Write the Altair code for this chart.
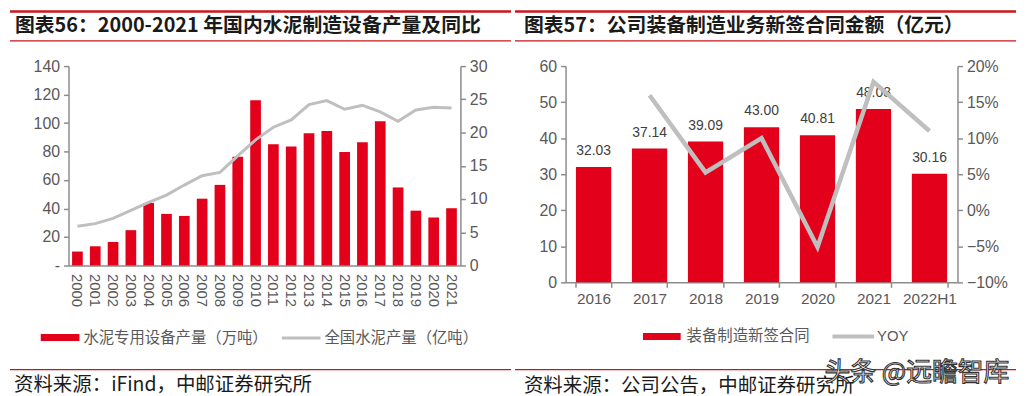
import altair as alt
import pandas as pd

# ---------------- data ----------------
years = [str(y) for y in range(2000, 2022)]
equip_output = [9.8, 13.5, 16.5, 24.8, 43.9, 36.2, 34.8, 46.9, 56.6, 76.4, 116.0,
                85.2, 83.6, 92.9, 94.5, 79.6, 86.6, 101.2, 54.8, 38.5, 33.7, 40.2]
cement_output = [5.9, 6.3, 7.1, 8.3, 9.5, 10.6, 12.1, 13.5, 14.0, 16.5, 18.9,
                 20.8, 21.9, 24.2, 24.8, 23.5, 24.1, 23.1, 21.7, 23.4, 23.8, 23.7]

periods = ["2016", "2017", "2018", "2019", "2020", "2021", "2022H1"]
contracts = [32.03, 37.14, 39.09, 43.00, 40.81, 48.08, 30.16]
yoy = [None, 0.1595, 0.0525, 0.100, -0.0509, 0.1781, 0.110]

title_left = "图表56：2000-2021 年国内水泥制造设备产量及同比"
title_right = "图表57：公司装备制造业务新签合同金额（亿元）"
legend_left = ["水泥专用设备产量（万吨）", "全国水泥产量（亿吨）"]
legend_right = ["装备制造新签合同", "YOY"]
source_left = "资料来源：iFind，中邮证券研究所"
source_right = "资料来源：公司公告，中邮证券研究所"
watermark = "头条 @远瞻智库"

# ---------------- styles ----------------
RED = "#E2001A"
RULE = "#C8161E"
GREY_LINE = "#BFBFBF"
AXIS = "#8C8C8C"
LABEL = "#595959"
NUM_FONT = "Liberation Sans"
CJK = "Noto Sans CJK SC"

one = pd.DataFrame({"k": [0]})


def hrule(x1, x2, y, w, color=RULE):
    return alt.Chart(one).mark_rule(color=color, strokeWidth=w, strokeCap="butt").encode(
        x=alt.value(x1), x2=alt.value(x2), y=alt.value(y))


def box(x1, x2, y1, y2, color):
    return alt.Chart(one).mark_rect(color=color).encode(
        x=alt.value(x1), x2=alt.value(x2), y=alt.value(y1), y2=alt.value(y2))


def txt(s, x, y, size, color, font=CJK, weight="normal", **kw):
    return alt.Chart(one).mark_text(align="left", baseline="middle", font=font,
                                    fontSize=size, fontWeight=weight, color=color, **kw).encode(
        x=alt.value(x), y=alt.value(y), text=alt.value(s))


axis_common = dict(title=None, grid=False, labelColor=LABEL, labelFont=NUM_FONT,
                   domainColor=AXIS, tickColor=AXIS, domainWidth=1.5, tickWidth=1.5)

# ---------------- left panel ----------------
W1, H1 = 395, 201
df1 = pd.DataFrame({"year": years, "equip": equip_output, "cement": cement_output})
base1 = alt.Chart(df1)
x1 = alt.X("year:N", sort=years,
           scale=alt.Scale(paddingInner=0.4, paddingOuter=0.2),
           axis=alt.Axis(labelAngle=90, labelAlign="left", labelBaseline="middle",
                         labelFontSize=15, ticks=False, labelPadding=8, **axis_common))
bars1 = base1.mark_bar(color=RED).encode(
    x=x1,
    y=alt.Y("equip:Q", scale=alt.Scale(domain=[0, 140]),
            axis=alt.Axis(orient="left", values=list(range(0, 141, 20)),
                          labelExpr="datum.value == 0 ? '-' : datum.label",
                          labelFontSize=16, tickSize=5, labelPadding=4, **axis_common)))
line1 = base1.mark_line(color=GREY_LINE, strokeWidth=3).encode(
    x=x1,
    y=alt.Y("cement:Q", scale=alt.Scale(domain=[0, 30]),
            axis=alt.Axis(orient="right", values=list(range(0, 31, 5)),
                          labelFontSize=16, tickSize=5, labelPadding=4, **axis_common)))

deco1 = [
    hrule(-59, 446, -55, 2.6),
    hrule(-59, 446, -25.5, 1.3),
    txt(title_left, -54, -40, 20, "#1A1A1A", weight="bold"),
    box(-28, 11, 270, 277, RED),
    txt(legend_left[0], 15, 274, 15.5, LABEL),
    hrule(215, 254, 274, 3, GREY_LINE),
    txt(legend_left[1], 258, 274, 15.5, LABEL),
    hrule(-59, 446, 306, 1.3),
    txt(source_left, -55, 321, 19.6, "#1A1A1A"),
]
left = alt.layer(bars1, line1, *deco1).resolve_scale(y="independent").properties(width=W1, height=H1)

# ---------------- right panel ----------------
W2, H2 = 395, 218
df2 = pd.DataFrame({"period": periods, "contract": contracts, "yoy": yoy})
base2 = alt.Chart(df2)
x2 = alt.X("period:N", sort=periods,
           scale=alt.Scale(paddingInner=0.37, paddingOuter=0.185),
           axis=alt.Axis(labelAngle=0, labelFontSize=15.5, ticks=True, tickBand="extent",
                         tickSize=5, labelPadding=4, **axis_common))
y2 = alt.Y("contract:Q", scale=alt.Scale(domain=[0, 60]),
           axis=alt.Axis(orient="left", values=list(range(0, 61, 10)),
                         labelFontSize=16, tickSize=5, labelPadding=4, **axis_common))
bars2 = base2.mark_bar(color=RED).encode(x=x2, y=y2)
labels2 = base2.mark_text(baseline="bottom", dy=-9, font=NUM_FONT, fontSize=14,
                          color="#404040").encode(
    x=x2,
    y=alt.Y("contract:Q", scale=alt.Scale(domain=[0, 60]), axis=None),
    text=alt.Text("contract:Q", format=".2f"))
line2 = base2.transform_filter("datum.yoy != null").mark_line(
    color=GREY_LINE, strokeWidth=4.5).encode(
    x=x2,
    y=alt.Y("yoy:Q", scale=alt.Scale(domain=[-0.1, 0.2]),
            axis=alt.Axis(orient="right", values=[-0.1, -0.05, 0, 0.05, 0.1, 0.15, 0.2],
                          format=".0%", labelFontSize=16, tickSize=5, labelPadding=4,
                          **axis_common)))

deco2 = [
    hrule(-51, 454, -55, 2.6),
    hrule(-51, 454, -25.5, 1.3),
    txt(title_right, -42, -40, 20, "#1A1A1A", weight="bold"),
    box(78, 116, 269, 276, RED),
    txt(legend_right[0], 122, 272.5, 15.5, LABEL),
    hrule(269, 311, 272.5, 4, GREY_LINE),
    txt(legend_right[1], 314, 272.5, 15, LABEL, font=NUM_FONT),
    hrule(-51, 454, 306, 1.3),
    txt(source_right, -42, 322, 19.6, "#1A1A1A"),
    txt(watermark, 261, 309, 26, "#FFFFFF", stroke="#333333", strokeWidth=1.1),
]
right = alt.layer(bars2, labels2, line2, *deco2).resolve_scale(y="independent").properties(width=W2, height=H2)

chart = alt.hconcat(left, right, spacing=0).properties(padding=0).configure_view(stroke=None)

chart.save("out.html", embed_options={"renderer": "svg", "actions": False})
